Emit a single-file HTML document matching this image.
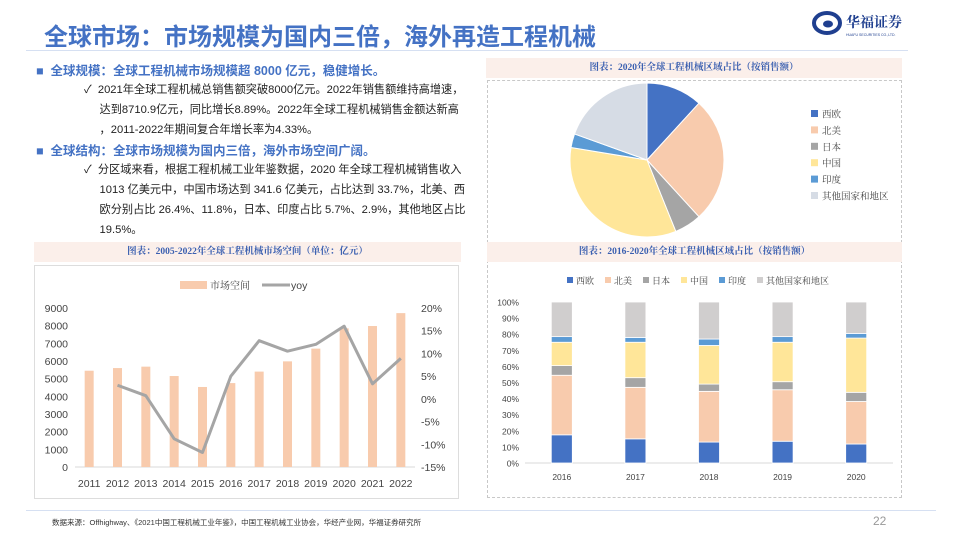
<!DOCTYPE html>
<html><head><meta charset="utf-8"><style>
body{margin:0;width:960px;height:540px;overflow:hidden;background:#fff;font-family:"Liberation Sans","Noto Sans CJK SC",sans-serif;position:relative}
div,span{position:absolute}
.t{white-space:nowrap}
.b{color:#4472c4;font-weight:bold;font-size:12.5px}
.n{color:#222;font-size:11.2px}
.hd{background:#fbefea;color:#3a5fb0;font-weight:bold;font-size:9.5px;text-align:center;line-height:20px;font-family:"Liberation Serif","Noto Serif CJK SC",serif}
</style></head><body>
<div class="t" style="left:44px;top:17px;font-size:24px;font-weight:bold;color:#4472c4">全球市场：市场规模为国内三倍，海外再造工程机械</div>
<div style="left:26px;top:50px;width:882px;height:1px;background:#d6e0f2"></div>
<div style="left:812px;top:10px;width:100px;height:28px">
<svg width="100" height="28"><ellipse cx="15" cy="13" rx="13" ry="10" fill="none" stroke="#1f3f8f" stroke-width="4"/><ellipse cx="16" cy="14" rx="5" ry="3.5" fill="#1f3f8f"/>
<text x="34" y="17" font-size="14" font-weight="bold" fill="#1f3f8f" font-family="Noto Serif CJK SC,serif">华福证券</text>
<text x="34" y="26" font-size="3.5" fill="#1f3f8f">HUAFU SECURITIES CO.,LTD.</text></svg></div>

<div class="t b" style="left:36px;top:60px">■&nbsp;&nbsp;全球规模：全球工程机械市场规模超 8000 亿元，稳健增长。</div>
<div class="t n" style="left:84px;top:80px;line-height:20px">✓&nbsp;&nbsp;2021年全球工程机械总销售额突破8000亿元。2022年销售额维持高增速，<br>&nbsp;&nbsp;&nbsp;&nbsp;&nbsp;达到8710.9亿元，同比增长8.89%。2022年全球工程机械销售金额达新高<br>&nbsp;&nbsp;&nbsp;&nbsp;&nbsp;，2011-2022年期间复合年增长率为4.33%。</div>
<div class="t b" style="left:36px;top:140px">■&nbsp;&nbsp;全球结构：全球市场规模为国内三倍，海外市场空间广阔。</div>
<div class="t n" style="left:84px;top:160px;line-height:20px">✓&nbsp;&nbsp;分区域来看，根据工程机械工业年鉴数据，2020 年全球工程机械销售收入<br>&nbsp;&nbsp;&nbsp;&nbsp;&nbsp;1013 亿美元中，中国市场达到 341.6 亿美元，占比达到 33.7%，北美、西<br>&nbsp;&nbsp;&nbsp;&nbsp;&nbsp;欧分别占比 26.4%、11.8%，日本、印度占比 5.7%、2.9%，其他地区占比<br>&nbsp;&nbsp;&nbsp;&nbsp;&nbsp;19.5%。</div>

<div class="hd" style="left:486px;top:58px;width:416px">图表：2020年全球工程机械区域占比（按销售额）</div>
<div style="left:487px;top:80px;width:413px;height:416px;border:1.5px dashed #c8c8c8"></div>
<div class="hd" style="left:487px;top:242px;width:415px">图表：2016-2020年全球工程机械区域占比（按销售额）</div>
<div class="hd" style="left:34px;top:242px;width:427px">图表：2005-2022年全球工程机械市场空间（单位：亿元）</div>
<div style="left:34px;top:265px;width:423px;height:232px;border:1.5px solid #ddd"></div>

<svg id="svg" width="960" height="540" style="position:absolute;left:0;top:0" font-family="Liberation Sans, Noto Sans CJK SC, sans-serif"></svg>

<div style="left:26px;top:510px;width:910px;height:1px;background:#d6e0f2"></div>
<div class="t" style="left:52px;top:517px;font-size:7.5px;color:#333">数据来源：Offhighway、《2021中国工程机械工业年鉴》，中国工程机械工业协会，华经产业网，华福证券研究所</div>
<div class="t" style="left:873px;top:514px;font-size:12px;color:#999">22</div>

<script>
const regions=['西欧','北美','日本','中国','印度','其他国家和地区'];
const pieValues=[11.8,26.4,5.7,33.7,2.9,19.5];
const pieColors=['#4472c4','#f8cbad','#a5a5a5','#ffe699','#5b9bd5','#d6dce5'];
const years=['2011','2012','2013','2014','2015','2016','2017','2018','2019','2020','2021','2022'];
const marketSize=[5450,5600,5680,5150,4530,4750,5400,5980,6700,7850,7980,8710];
const yoy=[null,3.0,0.7,-8.8,-11.8,5.0,12.8,10.5,12.0,16.0,3.3,8.9];
const leftTicks=[0,1000,2000,3000,4000,5000,6000,7000,8000,9000];
const rightTicks=[-15,-10,-5,0,5,10,15,20];
const shareYears=['2016','2017','2018','2019','2020'];
const sWestEU=[17.5,15,13,13.5,11.8];
const sNA=[37,32,31.5,32,26.4];
const sJP=[6,6,4.5,5,5.7];
const sCN=[14.5,22,24,24.5,33.7];
const sIN=[3.5,3,4,3.5,2.9];
const sOther=[21.5,22,23,21.5,19.5];
const pctTicks=[0,10,20,30,40,50,60,70,80,90,100];
const barColors=['#4472c4','#f8cbad','#a5a5a5','#ffe699','#5b9bd5','#d0cece'];

const svg=document.getElementById('svg');const NS='http://www.w3.org/2000/svg';
function mk(tag,at,name,txt){const e=document.createElementNS(NS,tag);for(const k in at)e.setAttribute(k,at[k]);


if(txt!=null)e.textContent=txt;svg.appendChild(e);return e;}

// pie
const cx=647,cy=160,r=77;let a=0;const tot=pieValues.reduce((s,v)=>s+v,0);
pieValues.forEach((v,i)=>{const a0=a/tot*2*Math.PI;a+=v;const a1=a/tot*2*Math.PI;
const x0=cx+r*Math.sin(a0),y0=cy-r*Math.cos(a0),x1=cx+r*Math.sin(a1),y1=cy-r*Math.cos(a1);
mk('path',{d:`M${cx},${cy}L${x0},${y0}A${r},${r} 0 ${(a1-a0)>Math.PI?1:0} 1 ${x1},${y1}Z`,fill:pieColors[i],stroke:'#fff','stroke-width':1},'pie-slice-'+i);
mk('rect',{x:811,y:110+i*16.4,width:7,height:7,fill:pieColors[i]},'pie-legend-swatch');
mk('text',{x:822,y:117.5+i*16.4,'font-size':9.5,fill:'#444','font-family':'Noto Serif CJK SC, serif'},'pie-legend-label',regions[i]);});

// left combo chart
const L0=75,L1=415,Y0=467,Y1=308;
const xs=i=>L0+(i+0.5)*(L1-L0)/years.length;
const yl=v=>Y0-(v/9000)*(Y0-Y1);
const yr=v=>Y0-((v+15)/35)*(Y0-Y1);
mk('line',{x1:L0,y1:Y0,x2:L1,y2:Y0,stroke:'#d9d9d9'},'x-axis');
leftTicks.forEach(t=>mk('text',{x:68,y:yl(t)+4,'font-size':10.5,fill:'#444','text-anchor':'end'},'left-tick',t));
rightTicks.forEach(t=>mk('text',{x:421,y:yr(t)+4,'font-size':10.5,fill:'#444'},'right-tick',t+'%'));
marketSize.forEach((v,i)=>{mk('rect',{x:xs(i)-4.5,y:yl(v),width:9,height:Y0-yl(v),fill:'#f8cbad'},'bar-'+years[i]);
mk('text',{x:xs(i),y:487,'font-size':10.5,fill:'#444','text-anchor':'middle'},'x-tick',years[i]);});
let pts=yoy.map((v,i)=>v==null?null:xs(i)+','+yr(v)).filter(p=>p);
mk('polyline',{points:pts.join(' '),fill:'none',stroke:'#a5a5a5','stroke-width':3,'stroke-linejoin':'round'},'yoy-line');
mk('rect',{x:180,y:281,width:27,height:8,fill:'#f8cbad'},'legend-bar-swatch');
mk('text',{x:210,y:289,'font-size':10,fill:'#444','font-family':'Noto Serif CJK SC, serif'},'legend-bar-label','市场空间');
mk('line',{x1:262,y1:285,x2:290,y2:285,stroke:'#a5a5a5','stroke-width':3},'legend-line-swatch');
mk('text',{x:291,y:289,'font-size':10.5,fill:'#444'},'legend-line-label','yoy');

// right stacked
const B0=463,B1=302,bx0=525,bx1=893;
const yp=v=>B0-v/100*(B0-B1);
const bxs=i=>bx0+(i+0.5)*(bx1-bx0)/shareYears.length;
pctTicks.forEach(t=>mk('text',{x:519,y:yp(t)+3.5,'font-size':8.5,fill:'#444','text-anchor':'end'},'pct-tick',t+'%'));
mk('line',{x1:bx0,y1:B0,x2:bx1,y2:B0,stroke:'#d9d9d9'},'bar-x-axis');
const series=[sWestEU,sNA,sJP,sCN,sIN,sOther];
shareYears.forEach((y,i)=>{let acc=0;series.forEach((s,k)=>{const v=s[i];
mk('rect',{x:bxs(i)-10.5,y:yp(acc+v),width:21,height:yp(acc)-yp(acc+v),fill:barColors[k],stroke:'#fff','stroke-width':0.8},'stack-'+y+'-'+k);acc+=v;});
mk('text',{x:bxs(i),y:480,'font-size':8.5,fill:'#444','text-anchor':'middle'},'bar-x-tick',y);});
let lx=567;regions.forEach((n,k)=>{mk('rect',{x:lx,y:277,width:6,height:6,fill:barColors[k]},'bar-legend-swatch');
mk('text',{x:lx+9,y:284,'font-size':9,fill:'#444','font-family':'Noto Serif CJK SC, serif'},'bar-legend-label',n);lx+=9+n.length*9.5+10;});
</script>
</body></html>
